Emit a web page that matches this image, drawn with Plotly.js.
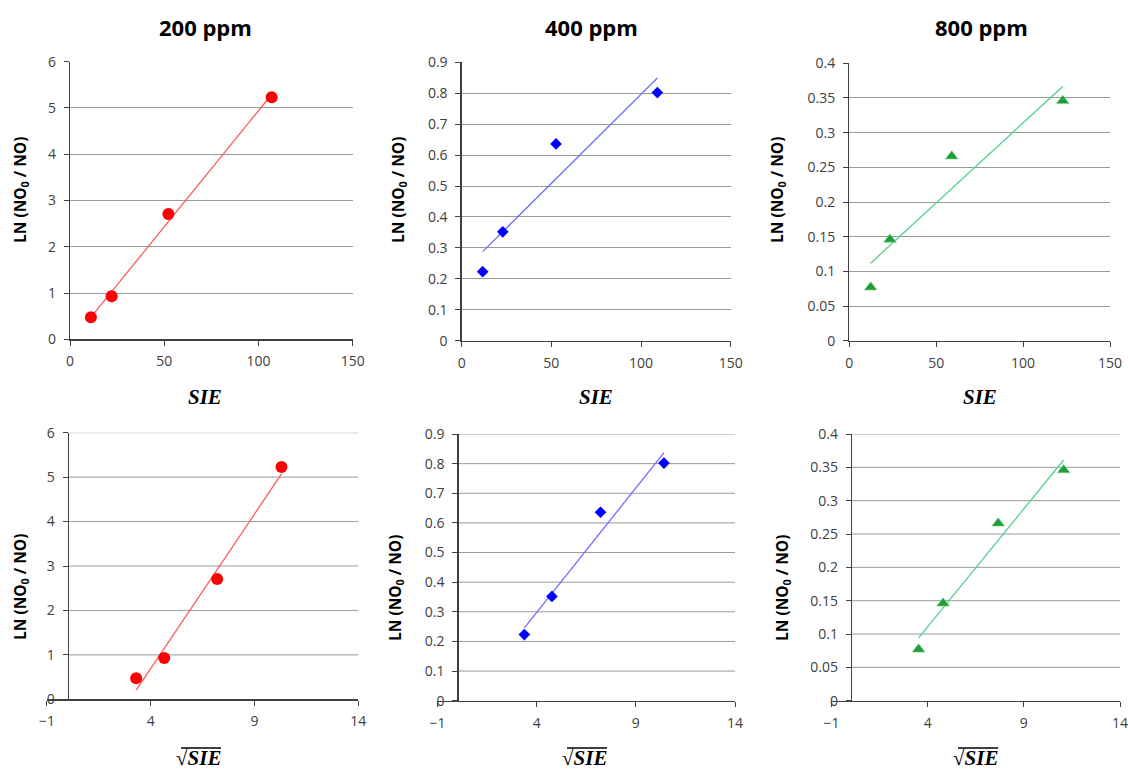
<!DOCTYPE html>
<html>
<head>
<meta charset="utf-8">
<script src="https://cdn.plot.ly/plotly-3.0.1.min.js"></script>
<style>html,body{margin:0;padding:0;background:#fff}</style>
</head>
<body>
<div id="chart" style="width:1128px;height:772px"></div>
<script>
// ---- data ----
const concentrations = ['200 ppm', '400 ppm', '800 ppm'];
const sie200 = [11.1, 22.1, 52.2, 107.0];
const sie400 = [11.7, 22.9, 52.6, 109.1];
const sie800 = [12.3, 23.4, 58.9, 122.8];
const sqrtSie200 = [3.3, 4.65, 7.2, 10.3];
const sqrtSie400 = [3.38, 4.77, 7.22, 10.42];
const sqrtSie800 = [3.53, 4.8, 7.67, 11.07];
const ln200 = [0.475, 0.93, 2.71, 5.23];
const ln400 = [0.223, 0.352, 0.636, 0.802];
const ln800 = [0.077, 0.146, 0.266, 0.346];
const yTicks200 = [0, 1, 2, 3, 4, 5, 6];
const yTicks400 = [0, 0.1, 0.2, 0.3, 0.4, 0.5, 0.6, 0.7, 0.8, 0.9];
const yTicks800 = [0, 0.05, 0.1, 0.15, 0.2, 0.25, 0.3, 0.35, 0.4];
const xTicksSie = [0, 50, 100, 150];
const xTicksSqrt = [-1, 4, 9, 14];

// ---- styling ----
const W = 1128, H = 772;
const TICKFONT = {family: 'Open Sans, Noto Sans, sans-serif', size: 14, color: '#404040'};
const AXCOL = '#404040', GRIDCOL = '#9a9a9a';
const styles = [
  {marker: {symbol: 'circle', size: 12, color: '#ff0000'}, line: '#ff5a5a'},
  {marker: {symbol: 'diamond', size: 9, color: '#0000ff'}, line: '#6e6eff'},
  {marker: {symbol: 'triangle-up', size: 11, color: '#1f9e3a', line: {color: '#7fcf7f', width: 0.6}}, line: '#52d08c'}
];

// pixel boxes [x0, x1, yTop, yBottom]
const boxes = [
  [70, 352.7, 61.7, 339.3],
  [461.7, 730.7, 62.3, 340.7],
  [849.3, 1110, 63.3, 340.7],
  [46.9, 358.3, 432.7, 699.3],
  [437.5, 735, 434, 700.7],
  [831.5, 1120, 434, 700.7]
];

function fit(xs, ys) {
  const n = xs.length;
  const mx = xs.reduce((a, b) => a + b, 0) / n;
  const my = ys.reduce((a, b) => a + b, 0) / n;
  let sxy = 0, sxx = 0;
  for (let i = 0; i < n; i++) { sxy += (xs[i] - mx) * (ys[i] - my); sxx += (xs[i] - mx) ** 2; }
  const m = sxy / sxx, b = my - m * mx;
  const x0 = Math.min(...xs), x1 = Math.max(...xs);
  return {x: [x0, x1], y: [m * x0 + b, m * x1 + b]};
}

const panels = [
  {x: sie200, y: ln200, yt: yTicks200, yr: [0, 6], xt: xTicksSie, xr: [0, 150], s: 0},
  {x: sie400, y: ln400, yt: yTicks400, yr: [0, 0.9], xt: xTicksSie, xr: [0, 150], s: 1},
  {x: sie800, y: ln800, yt: yTicks800, yr: [0, 0.4], xt: xTicksSie, xr: [0, 150], s: 2},
  {x: sqrtSie200, y: ln200, yt: yTicks200, yr: [0, 6], xt: xTicksSqrt, xr: [-1, 14], s: 0},
  {x: sqrtSie400, y: ln400, yt: yTicks400, yr: [0, 0.9], xt: xTicksSqrt, xr: [-1, 14], s: 1},
  {x: sqrtSie800, y: ln800, yt: yTicks800, yr: [0, 0.4], xt: xTicksSqrt, xr: [-1, 14], s: 2}
];

const traces = [];
const layout = {
  width: W, height: H, autosize: false,
  margin: {l: 0, r: 0, t: 0, b: 0},
  paper_bgcolor: '#ffffff', plot_bgcolor: 'rgba(0,0,0,0)',
  showlegend: false,
  shapes: [], annotations: []
};

panels.forEach((p, i) => {
  const k = i + 1;
  const xa = k === 1 ? 'x' : 'x' + k, ya = k === 1 ? 'y' : 'y' + k;
  const [px0, px1, pyT, pyB] = boxes[i];
  const xd = [px0 / W, px1 / W];
  const yd = [1 - pyB / H, 1 - pyT / H];
  const st = styles[p.s];
  const tr = fit(p.x, p.y);
  traces.push({x: tr.x, y: tr.y, xaxis: xa, yaxis: ya, mode: 'lines',
               line: {color: st.line, width: 1.3}, hoverinfo: 'skip'});
  traces.push({x: p.x, y: p.y, xaxis: xa, yaxis: ya, mode: 'markers', marker: st.marker});
  const bottom = i >= 3;
  const xfrac0 = (0 - p.xr[0]) / (p.xr[1] - p.xr[0]);
  layout['xaxis' + (k === 1 ? '' : k)] = {
    domain: xd, range: p.xr, anchor: ya, tickmode: 'array', tickvals: p.xt,
    showgrid: false, zeroline: false, showline: true, linecolor: AXCOL, linewidth: 1.3,
    ticks: 'outside', ticklen: 5, tickcolor: AXCOL, tickfont: TICKFONT, ticklabelstandoff: 4,
    ticklabeloverflow: 'allow', fixedrange: true
  };
  layout['yaxis' + (k === 1 ? '' : k)] = {
    domain: yd, range: p.yr, tickmode: 'array', tickvals: p.yt,
    anchor: bottom ? 'free' : xa,
    position: bottom ? xd[0] + (xd[1] - xd[0]) * xfrac0 : undefined,
    showgrid: !bottom, gridcolor: GRIDCOL, gridwidth: 1,
    zeroline: false, showline: true, linecolor: AXCOL, linewidth: 1.3,
    ticks: 'outside', ticklen: 5, tickcolor: AXCOL, tickfont: TICKFONT, ticklabelstandoff: 5,
    ticklabeloverflow: 'allow', fixedrange: true
  };
  if (bottom) {
    p.yt.forEach(v => {
      if (v === 0) return;
      layout.shapes.push({type: 'line', xref: xa, yref: ya, x0: 0, x1: p.xr[1], y0: v, y1: v,
                          line: {color: GRIDCOL, width: 1}, layer: 'below'});
    });
  }
});

// column titles
const titleX = [205, 591, 981];
concentrations.forEach((c, j) => {
  layout.annotations.push({text: '<b>' + c + '</b>', xref: 'paper', yref: 'paper',
    x: titleX[j] / W, y: 1 - 27 / H, xanchor: 'center', yanchor: 'middle', showarrow: false,
    font: {family: 'Open Sans, Noto Sans, sans-serif', size: 22, color: '#000'}});
});

// y titles
const yTitlePos = [[20, 190], [398, 190], [777, 190], [20, 587], [395, 588], [782, 588]];
yTitlePos.forEach(([x, y]) => {
  layout.annotations.push({text: '<b>LN (NO<sub>0</sub> / NO)</b>', xref: 'paper', yref: 'paper',
    x: x / W, y: 1 - y / H, xanchor: 'center', yanchor: 'middle', showarrow: false, textangle: -90,
    font: {family: 'Open Sans, Noto Sans, sans-serif', size: 15.5, color: '#000'}});
});

// x titles
const SERIF = {family: 'Liberation Serif, DejaVu Serif, serif', size: 21, color: '#000'};
[[205, 397], [596, 397], [980, 397]].forEach(([x, y]) => {
  layout.annotations.push({text: '<b><i>SIE</i></b>', xref: 'paper', yref: 'paper',
    x: x / W, y: 1 - y / H, xanchor: 'center', yanchor: 'middle', showarrow: false, font: SERIF});
});
[[198, 758], [584, 758], [975, 758]].forEach(([x, y]) => {
  layout.annotations.push({text: '<b>√<i>SIE</i></b>', xref: 'paper', yref: 'paper',
    x: x / W, y: 1 - y / H, xanchor: 'center', yanchor: 'middle', showarrow: false, font: SERIF});
  layout.shapes.push({type: 'line', xref: 'paper', yref: 'paper',
    x0: (x - 17) / W, x1: (x + 23) / W, y0: 1 - 748 / H, y1: 1 - 748 / H,
    line: {color: '#000', width: 1.5}});
});

Plotly.newPlot('chart', traces, layout, {staticPlot: true, displayModeBar: false});
</script>
</body>
</html>
